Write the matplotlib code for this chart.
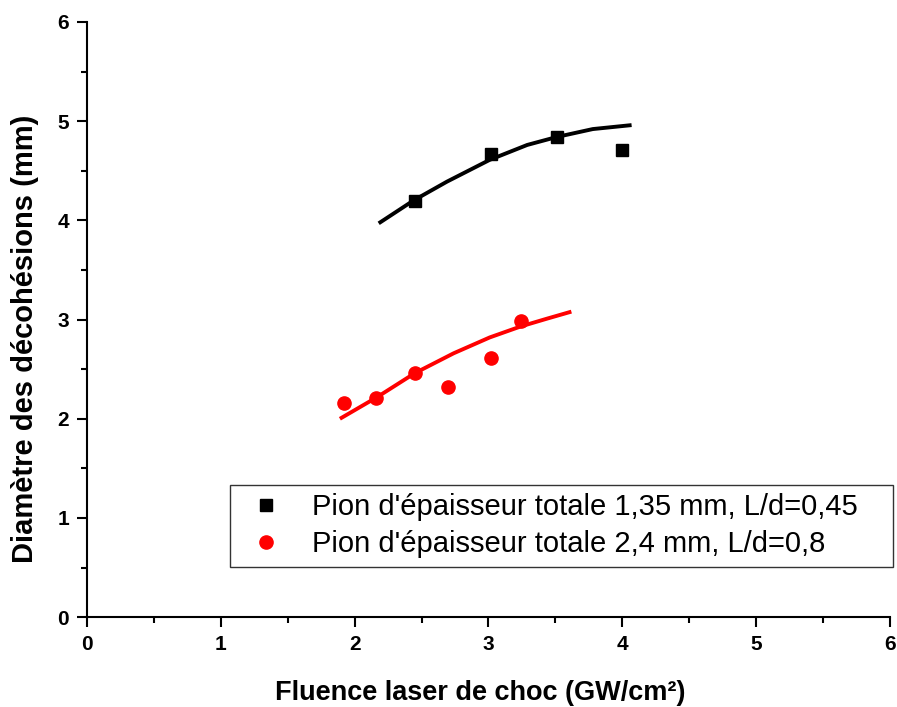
import matplotlib.pyplot as plt
from matplotlib.ticker import MultipleLocator

# measured points
xBlack = [2.45, 3.02, 3.51, 4.00]
yBlack = [4.19, 4.67, 4.84, 4.71]
xRed = [1.92, 2.16, 2.45, 2.70, 3.02, 3.24]
yRed = [2.16, 2.21, 2.46, 2.32, 2.61, 2.99]

# fitted trend curves
xFitBlack = [2.18, 2.44, 2.69, 3.01, 3.29, 3.51, 3.78, 4.07]
yFitBlack = [3.97, 4.20, 4.39, 4.61, 4.76, 4.84, 4.92, 4.96]
xFitRed = [1.89, 2.17, 2.45, 2.74, 3.01, 3.24, 3.44, 3.62]
yFitRed = [2.00, 2.22, 2.46, 2.66, 2.82, 2.93, 3.01, 3.08]

labels = ["Pion d'épaisseur totale 1,35 mm, L/d=0,45",
          "Pion d'épaisseur totale 2,4 mm, L/d=0,8"]

plt.rcParams['font.family'] = ['Liberation Sans', 'DejaVu Sans']

fig = plt.figure(figsize=(8.97, 7.07), dpi=100)
ax = fig.add_axes([0.097, 0.127, 0.895, 0.842])

ax.plot(xFitBlack, yFitBlack, color="black", lw=2.8, solid_capstyle="butt", solid_joinstyle="round")
ax.plot(xFitRed, yFitRed, color="red", lw=2.8, solid_capstyle="butt", solid_joinstyle="round")
ax.plot(xBlack, yBlack, "s", color="black", ms=8, ls="none", label=labels[0])
ax.plot(xRed, yRed, "o", color="red", ms=9.5, ls="none", label=labels[1])

ax.set_xlim(0, 6)
ax.set_ylim(0, 6)
ax.xaxis.set_major_locator(MultipleLocator(1))
ax.xaxis.set_minor_locator(MultipleLocator(0.5))
ax.yaxis.set_major_locator(MultipleLocator(1))
ax.yaxis.set_minor_locator(MultipleLocator(0.5))

ax.spines['top'].set_visible(False)
ax.spines['right'].set_visible(False)
for s in ['left', 'bottom']:
    ax.spines[s].set_linewidth(1.5)
ax.tick_params(which='major', direction='out', length=7, width=1.5, labelsize=15, pad=6)
ax.tick_params(which='minor', direction='out', length=4, width=1.5)
for t in ax.get_xticklabels() + ax.get_yticklabels():
    t.set_fontweight('bold')

ax.set_xlabel("Fluence laser de choc (GW/cm²)", fontsize=19.5, fontweight='bold')
ax.set_ylabel("Diamètre des décohésions (mm)", fontsize=21, fontweight='bold')
ax.xaxis.set_label_coords(0.49, -0.105)
ax.yaxis.set_label_coords(-0.060, 0.467)

# legend box stretched over a fixed width, entries left aligned
leg = ax.legend(loc='lower left', bbox_to_anchor=(0.178, 0.084, 0.826, 0.0), mode='expand',
                borderaxespad=0, fontsize=21, frameon=True, fancybox=False,
                edgecolor='black', handletextpad=0.6, borderpad=0.3,
                labelspacing=0.31, handlelength=1.9)
leg.get_frame().set_linewidth(1.0)

fig.savefig("out.png", dpi=100)
